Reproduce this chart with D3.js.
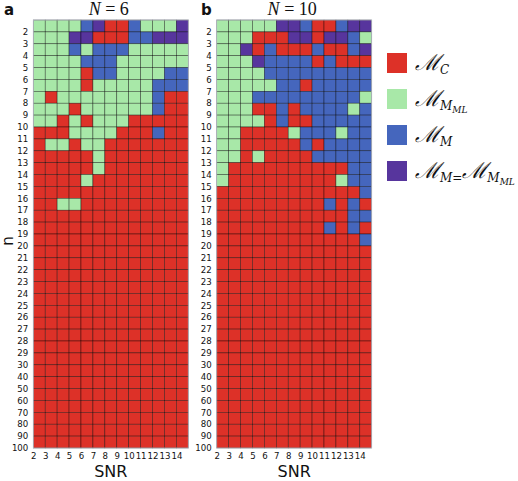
<!DOCTYPE html>
<html><head><meta charset="utf-8">
<script src="https://cdn.jsdelivr.net/npm/d3@7"></script>
<style>body{margin:0;background:#fff}svg{display:block}</style>
</head><body>
<svg id="chart" width="518" height="481"></svg>
<script>
// ---- data ----
const snrValues = [2,3,4,5,6,7,8,9,10,11,12,13,14];
const nLabels = ["2","3","4","5","6","7","8","9","10","11","12","13","14","15","16","17","18","19","20",
  "21","22","23","24","25","26","27","28","29","30","40","50","60","70","80","90","100"];
const categories = ["C","L","M","P"]; // C = M_C, L = M_MML, M = M_M, P = M_M = M_MML
const categoryColors = ["#dd3128","#a8e8a8","#4566bd","#57359d"];
const allC = "CCCCCCCCCCCCC";
// rows top to bottom, one character per SNR column
const gridN6 = [
  "LLLLMPCCMLLLP","LLLPPCCCMMPPP","LLLMLMMMLLLLL","LLLLMMMLLLLLL","LLLLCMMLLLLMM",
  "LLLLCLLLLLMMM","LCLLLLLLLLMCC","LLLCLLLLLLMCC","LLCLCLLLCCCCC","CCCLLLLCCCMCC",
  "CLLCLLCCCCCCC","CCCCCLCCCCCCC","CCCCCLCCCCCCC","CCCCLCCCCCCCC","CCCCCCCCCCCCC",
  "CCLLCCCCCCCCC",allC,allC,allC,allC,allC,allC,allC,allC,allC,allC,allC,allC,allC,allC,
  allC,allC,allC,allC,allC,allC];
const gridN10 = [
  "LLLLLPPMCCMPP","LLLCCCPPCPPML","LLPCMCCCMCCMP","LLLPMMMMCMCCC","LLLLMMMMMMMMM",
  "LLLLLMMCMMMMM","LLLMMMMMMMMML","LLLCCMCMMMMLM","LLLLCMCCMMMMM","LLCCCCLMMMLMM",
  "LLCCCCCMCMMMM","LLCLCCCCMMMMM","LCCCCCCCCCCMM","LCCCCCCCCCLMM","CCCCCCCCCCCCM",
  "CCCCCCCCCMCMC","CCCCCCCCCCCMM","CCCCCCCCCMCMC","CCCCCCCCCCCCM",allC,allC,allC,allC,
  allC,allC,allC,allC,allC,allC,allC,allC,allC,allC,allC,allC,allC];
const panelTitles = ["6","10"];
const panelLetters = ["a","b"];
// legend label parts: [text, level]
const legendParts = [
  [["ℳ",0],["C",1]],
  [["ℳ",0],["M",1],["ML",2]],
  [["ℳ",0],["M",1]],
  [["ℳ",0],["M",1],["=",1],["ℳ",0],["M",1],["ML",2]]
];

// ---- drawing ----
const svg = d3.select("#chart");
const color = d3.scaleOrdinal().domain(categories).range(categoryColors);
const gridTop = 20, gridBottom = 448;
const panels = [
  {grid: gridN6, x0: 33.3, x1: 188.3, title: panelTitles[0], letter: panelLetters[0], lx: 4},
  {grid: gridN10, x0: 216.7, x1: 371.7, title: panelTitles[1], letter: panelLetters[1], lx: 201}
];
const y = d3.scaleLinear().domain([0, nLabels.length]).range([gridTop, gridBottom]);

panels.forEach(p => {
  const x = d3.scaleLinear().domain([0, snrValues.length]).range([p.x0, p.x1]);
  const g = svg.append("g");
  const cells = [];
  p.grid.forEach((row, r) => row.split("").forEach((c, i) => cells.push({r, i, c})));
  g.selectAll("rect.cell").data(cells).join("rect")
    .attr("class","cell")
    .attr("x", d => x(d.i)).attr("y", d => y(d.r))
    .attr("width", x(1)-x(0)).attr("height", y(1)-y(0))
    .attr("fill", d => color(d.c))
    .attr("stroke", "#000").attr("stroke-opacity", 0.6).attr("stroke-width", 0.6);
  g.append("rect").attr("x", p.x0).attr("y", gridTop).attr("width", p.x1-p.x0).attr("height", gridBottom-gridTop)
    .attr("fill","none").attr("stroke","#b8bcc8").attr("stroke-width",0.8);

  const xAxis = d3.axisBottom(x).tickValues(d3.range(snrValues.length))
    .tickFormat(i => snrValues[i]).tickSize(0).tickPadding(5);
  const ax = svg.append("g").attr("transform", `translate(0,${gridBottom})`).call(xAxis);
  ax.select(".domain").remove();
  ax.selectAll("text").attr("font-family","DejaVu Sans").attr("font-size",8.6).attr("fill","#111");

  const yAxis = d3.axisLeft(y).tickValues(d3.range(1, nLabels.length+1))
    .tickFormat(i => nLabels[i-1]).tickSize(0).tickPadding(5);
  const ay = svg.append("g").attr("transform", `translate(${p.x0},0)`).call(yAxis);
  ay.select(".domain").remove();
  ay.selectAll("text").attr("font-family","DejaVu Sans").attr("font-size",8.6).attr("fill","#111");

  const cx = (p.x0 + p.x1)/2;
  const t = svg.append("text").attr("x", cx - 2).attr("y", 15).attr("text-anchor","middle")
    .attr("font-family","Liberation Serif").attr("font-size",18).attr("fill","#111");
  t.append("tspan").attr("font-style","italic").text("N");
  t.append("tspan").text(" = " + p.title);

  svg.append("text").attr("x", p.lx).attr("y", 15).attr("font-family","DejaVu Sans")
    .attr("font-weight","bold").attr("font-size",15).attr("fill","#111").text(p.letter);

  svg.append("text").attr("x", cx).attr("y", 477).attr("text-anchor","middle")
    .attr("font-family","DejaVu Sans").attr("font-size",16).attr("fill","#111").text("SNR");
});

svg.append("text").attr("transform","translate(13,241) rotate(-90)").attr("text-anchor","middle")
  .attr("font-family","DejaVu Sans").attr("font-size",15).attr("fill","#111").text("n");

// legend
const sizes = [22, 12, 9];
const shifts = [0, 4, 3];
const lg = svg.append("g");
categories.forEach((c, k) => {
  const yy = 53 + k*36;
  lg.append("rect").attr("x", 387).attr("y", yy).attr("width", 20).attr("height", 20)
    .attr("fill", color(c));
  const t = lg.append("text").attr("x", 415).attr("y", yy + 17)
    .attr("font-family","DejaVu Serif").attr("font-style","italic").attr("fill","#111");
  let level = 0;
  legendParts[k].forEach(([s, lv]) => {
    let dy = 0;
    if (lv > level) { for (let q = level+1; q <= lv; q++) dy += shifts[q]; }
    else if (lv < level) { for (let q = lv+1; q <= level; q++) dy -= shifts[q]; }
    level = lv;
    t.append("tspan").attr("dy", dy).attr("font-size", sizes[lv]).text(s);
  });
});
</script>
</body></html>
